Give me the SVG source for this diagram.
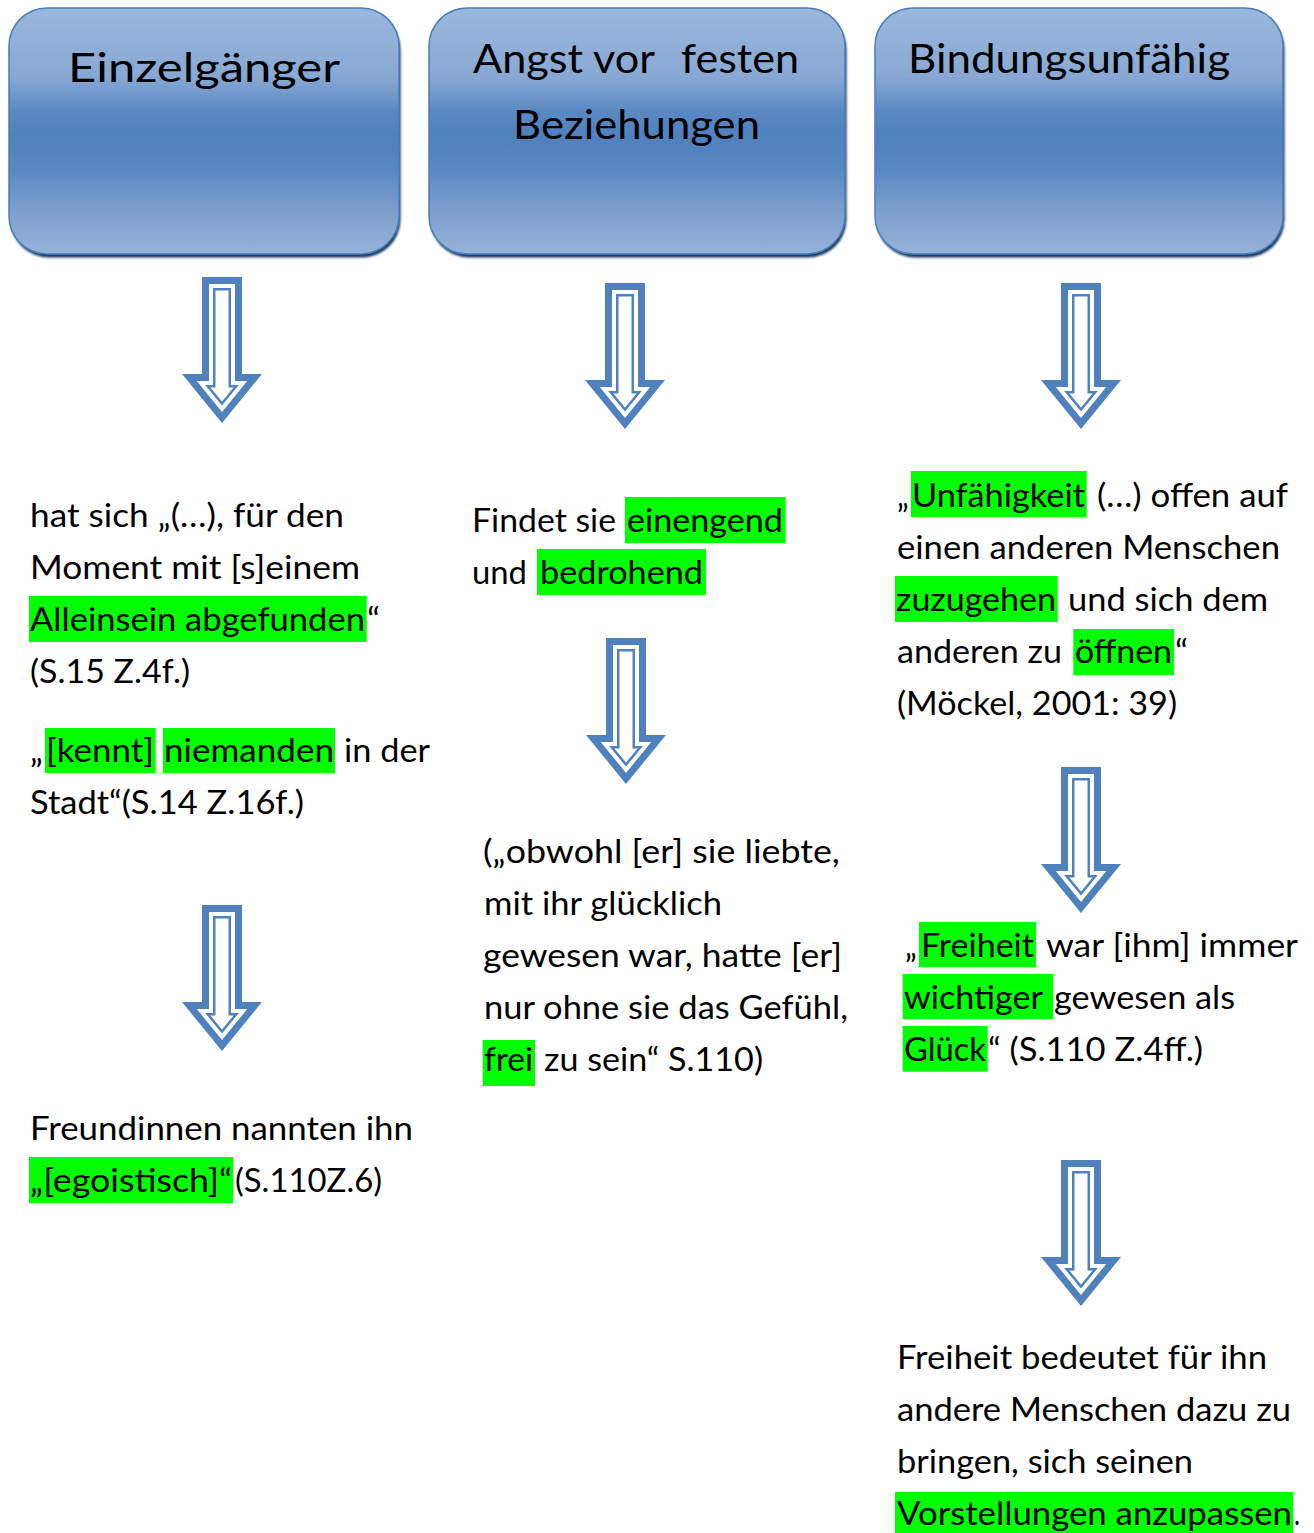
<svg xmlns="http://www.w3.org/2000/svg" xmlns:xlink="http://www.w3.org/1999/xlink" width="1314" height="1533" viewBox="0 0 1314 1533">
<style>
  .t { font-family: Lato, "Open Sans", "Liberation Sans", sans-serif; font-size: 32px; fill: #000; }
  .h { font-family: Lato, "Open Sans", "Liberation Sans", sans-serif; font-size: 40px; fill: #000; }
  .hl { fill: #00ff00; }
  .box { fill: url(#boxGrad); stroke: #4a7ebb; stroke-width: 1.5; }
  .shadow { fill: #1f3a5f; filter: url(#blur); }
</style>
<defs>
  <linearGradient id="boxGrad" x1="0" y1="0" x2="0" y2="1">
    <stop offset="0" stop-color="#9bb8dd"/>
    <stop offset="0.28" stop-color="#88a8d3"/>
    <stop offset="0.42" stop-color="#5b88c2"/>
    <stop offset="0.52" stop-color="#4f81bd"/>
    <stop offset="0.66" stop-color="#5a88c3"/>
    <stop offset="0.82" stop-color="#7c9ecd"/>
    <stop offset="1" stop-color="#96b3d9"/>
  </linearGradient>
  <filter id="blur" x="-5%" y="-5%" width="110%" height="110%">
    <feGaussianBlur stdDeviation="1.2"/>
  </filter>
  <g id="arrow">
    <polygon points="-20,0 20,0 20,97 40,97 0,146 -40,97 -20,97" fill="#4f81bd"/>
    <polygon points="-13,7 13,7 13,104 25.25,104 0,134.9 -25.25,104 -13,104" fill="#ffffff"/>
    <polygon points="-7.75,12.25 7.75,12.25 7.75,109.25 14.2,109.25 0,126.6 -14.2,109.25 -7.75,109.25" fill="#ffffff" stroke="#4f81bd" stroke-width="2.5"/>
  </g>
</defs>
<rect width="1314" height="1533" fill="#ffffff"/>

<g id="box-einzelgaenger">
  <rect class="shadow" x="10.5" y="11.5" width="390" height="246" rx="38"/>
  <rect class="box" x="9" y="8" width="390" height="246" rx="38"/>
  <text class="h" x="68" y="82" textLength="272" lengthAdjust="spacingAndGlyphs">Einzelgänger</text>
</g>
<g id="box-angst">
  <rect class="shadow" x="430.5" y="11.5" width="416" height="246" rx="38"/>
  <rect class="box" x="429" y="8" width="416" height="246" rx="38"/>
  <text class="h" x="473" y="73" textLength="182" lengthAdjust="spacingAndGlyphs">Angst vor</text>
  <text class="h" x="681" y="73" textLength="118" lengthAdjust="spacingAndGlyphs">festen</text>
  <text class="h" x="513" y="139" textLength="247" lengthAdjust="spacingAndGlyphs">Beziehungen</text>
</g>
<g id="box-bindungsunfaehig">
  <rect class="shadow" x="876.5" y="11.5" width="408" height="246" rx="38"/>
  <rect class="box" x="875" y="8" width="408" height="246" rx="38"/>
  <text class="h" x="908" y="73" textLength="322" lengthAdjust="spacingAndGlyphs">Bindungsunfähig</text>
</g>

<g id="connectors">
  <use href="#arrow" xlink:href="#arrow" transform="translate(222,277)"/>
  <use href="#arrow" xlink:href="#arrow" transform="translate(625,283)"/>
  <use href="#arrow" xlink:href="#arrow" transform="translate(1081,283)"/>
  <use href="#arrow" xlink:href="#arrow" transform="translate(222,905)"/>
  <use href="#arrow" xlink:href="#arrow" transform="translate(626,638)"/>
  <use href="#arrow" xlink:href="#arrow" transform="translate(1081,767)"/>
  <use href="#arrow" xlink:href="#arrow" transform="translate(1081,1160)"/>
</g>

<g id="text-alleinsein">
  <rect class="hl" x="29" y="596" width="337.7" height="46"/>
  <rect class="hl" x="45" y="728" width="110.7" height="45"/>
  <rect class="hl" x="163" y="728" width="172" height="45"/>
  <text class="t" x="30" y="527" textLength="314" lengthAdjust="spacingAndGlyphs">hat sich „(…), für den</text>
  <text class="t" x="30" y="579" textLength="330" lengthAdjust="spacingAndGlyphs">Moment mit [s]einem</text>
  <text class="t" x="30" y="631" textLength="335" lengthAdjust="spacingAndGlyphs">Alleinsein abgefunden</text>
  <text class="t" x="367" y="631" textLength="13" lengthAdjust="spacingAndGlyphs">“</text>
  <text class="t" x="30" y="683" textLength="160" lengthAdjust="spacingAndGlyphs">(S.15 Z.4f.)</text>
  <text class="t" x="30" y="762" textLength="13" lengthAdjust="spacingAndGlyphs">„</text>
  <text class="t" x="46" y="762" textLength="108" lengthAdjust="spacingAndGlyphs">[kennt]</text>
  <text class="t" x="164" y="762" textLength="170" lengthAdjust="spacingAndGlyphs">niemanden</text>
  <text class="t" x="344" y="762" textLength="86" lengthAdjust="spacingAndGlyphs">in der</text>
  <text class="t" x="30" y="814" textLength="274" lengthAdjust="spacingAndGlyphs">Stadt“(S.14 Z.16f.)</text>
</g>

<g id="text-egoistisch">
  <rect class="hl" x="29" y="1157" width="204.3" height="46"/>
  <text class="t" x="30" y="1140" textLength="383" lengthAdjust="spacingAndGlyphs">Freundinnen nannten ihn</text>
  <text class="t" x="30" y="1192" textLength="202" lengthAdjust="spacingAndGlyphs">„[egoistisch]“</text>
  <text class="t" x="235" y="1192" textLength="147" lengthAdjust="spacingAndGlyphs">(S.110Z.6)</text>
</g>

<g id="text-einengend">
  <rect class="hl" x="625" y="497" width="160.7" height="46"/>
  <rect class="hl" x="537" y="549" width="169" height="46"/>
  <text class="t" x="472" y="532" textLength="144" lengthAdjust="spacingAndGlyphs">Findet sie</text>
  <text class="t" x="627" y="532" textLength="156" lengthAdjust="spacingAndGlyphs">einengend</text>
  <text class="t" x="472" y="584" textLength="55" lengthAdjust="spacingAndGlyphs">und</text>
  <text class="t" x="540" y="584" textLength="163" lengthAdjust="spacingAndGlyphs">bedrohend</text>
</g>

<g id="text-obwohl">
  <rect class="hl" x="482.7" y="1040" width="52.3" height="46"/>
  <text class="t" x="483" y="863" textLength="357" lengthAdjust="spacingAndGlyphs">(„obwohl [er] sie liebte,</text>
  <text class="t" x="484" y="915" textLength="238" lengthAdjust="spacingAndGlyphs">mit ihr glücklich</text>
  <text class="t" x="483" y="967" textLength="359" lengthAdjust="spacingAndGlyphs">gewesen war, hatte [er]</text>
  <text class="t" x="484" y="1019" textLength="364" lengthAdjust="spacingAndGlyphs">nur ohne sie das Gefühl,</text>
  <text class="t" x="484" y="1071" textLength="49" lengthAdjust="spacingAndGlyphs">frei</text>
  <text class="t" x="544" y="1071" textLength="219" lengthAdjust="spacingAndGlyphs">zu sein“ S.110)</text>
</g>

<g id="text-unfaehigkeit">
  <rect class="hl" x="911" y="471" width="175.7" height="46"/>
  <rect class="hl" x="895" y="576" width="162.7" height="46"/>
  <rect class="hl" x="1073.3" y="629" width="100.7" height="46"/>
  <text class="t" x="897" y="507" textLength="12" lengthAdjust="spacingAndGlyphs">„</text>
  <text class="t" x="912" y="507" textLength="173" lengthAdjust="spacingAndGlyphs">Unfähigkeit</text>
  <text class="t" x="1097" y="507" textLength="191" lengthAdjust="spacingAndGlyphs">(…) offen auf</text>
  <text class="t" x="897" y="559" textLength="383" lengthAdjust="spacingAndGlyphs">einen anderen Menschen</text>
  <text class="t" x="896" y="611" textLength="160" lengthAdjust="spacingAndGlyphs">zuzugehen</text>
  <text class="t" x="1068" y="611" textLength="200" lengthAdjust="spacingAndGlyphs">und sich dem</text>
  <text class="t" x="897" y="663" textLength="165" lengthAdjust="spacingAndGlyphs">anderen zu</text>
  <text class="t" x="1075" y="663" textLength="97" lengthAdjust="spacingAndGlyphs">öffnen</text>
  <text class="t" x="1175" y="663" textLength="13" lengthAdjust="spacingAndGlyphs">“</text>
  <text class="t" x="897" y="715" textLength="280" lengthAdjust="spacingAndGlyphs">(Möckel, 2001: 39)</text>
</g>

<g id="text-freiheit">
  <rect class="hl" x="919" y="922" width="117" height="45"/>
  <rect class="hl" x="902.7" y="974" width="150.6" height="45.3"/>
  <rect class="hl" x="902.7" y="1026" width="85" height="45.7"/>
  <text class="t" x="905" y="957" textLength="12" lengthAdjust="spacingAndGlyphs">„</text>
  <text class="t" x="921" y="957" textLength="113" lengthAdjust="spacingAndGlyphs">Freiheit</text>
  <text class="t" x="1046" y="957" textLength="252" lengthAdjust="spacingAndGlyphs">war [ihm] immer</text>
  <text class="t" x="904" y="1009" textLength="139" lengthAdjust="spacingAndGlyphs">wichtiger</text>
  <text class="t" x="1054" y="1009" textLength="181" lengthAdjust="spacingAndGlyphs">gewesen als</text>
  <text class="t" x="904" y="1061" textLength="82" lengthAdjust="spacingAndGlyphs">Glück</text>
  <text class="t" x="988" y="1061" textLength="215" lengthAdjust="spacingAndGlyphs">“ (S.110 Z.4ff.)</text>
</g>

<g id="text-vorstellungen">
  <rect class="hl" x="895" y="1492" width="398.3" height="41"/>
  <text class="t" x="897" y="1369" textLength="370" lengthAdjust="spacingAndGlyphs">Freiheit bedeutet für ihn</text>
  <text class="t" x="897" y="1421" textLength="394" lengthAdjust="spacingAndGlyphs">andere Menschen dazu zu</text>
  <text class="t" x="897" y="1473" textLength="296" lengthAdjust="spacingAndGlyphs">bringen, sich seinen</text>
  <text class="t" x="897" y="1525" textLength="395" lengthAdjust="spacingAndGlyphs">Vorstellungen anzupassen</text>
  <text class="t" x="1294" y="1525" textLength="6" lengthAdjust="spacingAndGlyphs">.</text>
</g>
</svg>
